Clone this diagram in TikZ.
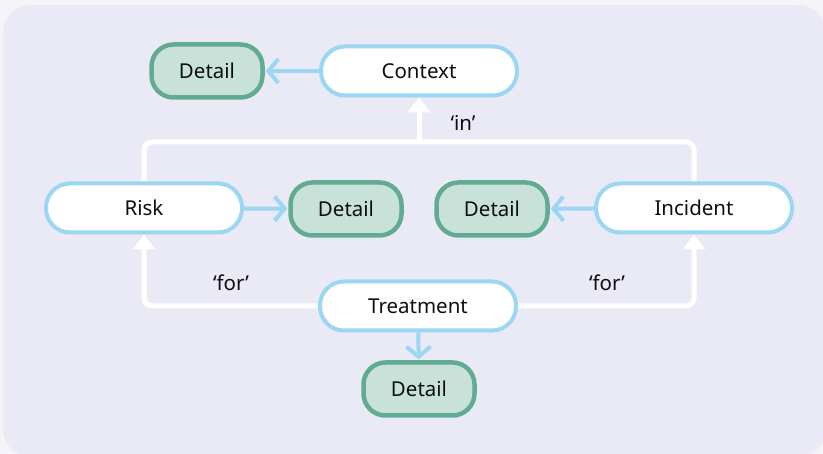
\documentclass[tikz,border=0pt]{standalone}
\usepackage{fontspec}
\setmainfont{Noto Sans}
\usetikzlibrary{arrows.meta}
\definecolor{pagebg}{HTML}{F4F4F9}
\definecolor{panelbg}{HTML}{EAEAF6}
\definecolor{blueb}{HTML}{9BD6F2}
\definecolor{greenf}{HTML}{C9E2D9}
\definecolor{greenb}{HTML}{62AB93}
\definecolor{txt}{HTML}{0E0E0E}
\pgfdeclarelayer{bg}
\pgfsetlayers{bg,main}
\begin{document}
\begin{tikzpicture}[x=1pt,y=-1pt,
 every node/.style={font=\fontsize{20.5}{23}\selectfont, text=txt},
 mainbox/.style={draw=blueb, line width=4pt, fill=white, rounded corners=24pt, minimum width=196pt, minimum height=49pt, inner sep=0pt},
 detailbox/.style={draw=greenb, line width=4.5pt, fill=greenf, rounded corners=22pt, minimum width=111pt, minimum height=53pt, inner sep=0pt},
 bluearrow/.style={draw=blueb, line width=4pt, shorten >=1pt, -{Straight Barb[length=10pt,width=24pt,line width=4pt]}},
 whiteline/.style={draw=white, line width=5pt, rounded corners=8pt},
 whitearrow/.style={whiteline, -{Triangle[length=15pt,width=22pt]}}
]
\useasboundingbox (0,0) rectangle (823,454);
\node[detailbox] (d1) at (207,71) {Detail};
\node[mainbox] (context) at (419,71) {Context};
\node[mainbox] (risk) at (144,208) {Risk};
\node[detailbox] (d2) at (346,209) {Detail};
\node[detailbox] (d3) at (492,209) {Detail};
\node[mainbox] (incident) at (694,208) {Incident};
\node[mainbox] (treatment) at (418,306) {Treatment};
\node[detailbox] (d4) at (419,389) {Detail};
\coordinate (hub) at (419,142);
\node (lin) at (463,123) {‘in’};
\node (lfor1) at (231,283) {‘for’};
\node (lfor2) at (607,283) {‘for’};
\draw[bluearrow] (context) -- (d1);
\draw[bluearrow] (risk) -- (d2);
\draw[bluearrow] (incident) -- (d3);
\draw[bluearrow] (treatment) -- (d4);
\begin{pgfonlayer}{bg}
\fill[pagebg] (0,0) rectangle (823,454);
\fill[panelbg, rounded corners=28pt] (3,5) rectangle (826,457);
\draw[whiteline] (risk.north) |- (hub) -| (incident.north);
\draw[whitearrow] (hub) -- (context.south);
\draw[whitearrow] (treatment.west) -| (risk.south);
\draw[whitearrow] (treatment.east) -| (incident.south);
\end{pgfonlayer}
\end{tikzpicture}
\end{document}
